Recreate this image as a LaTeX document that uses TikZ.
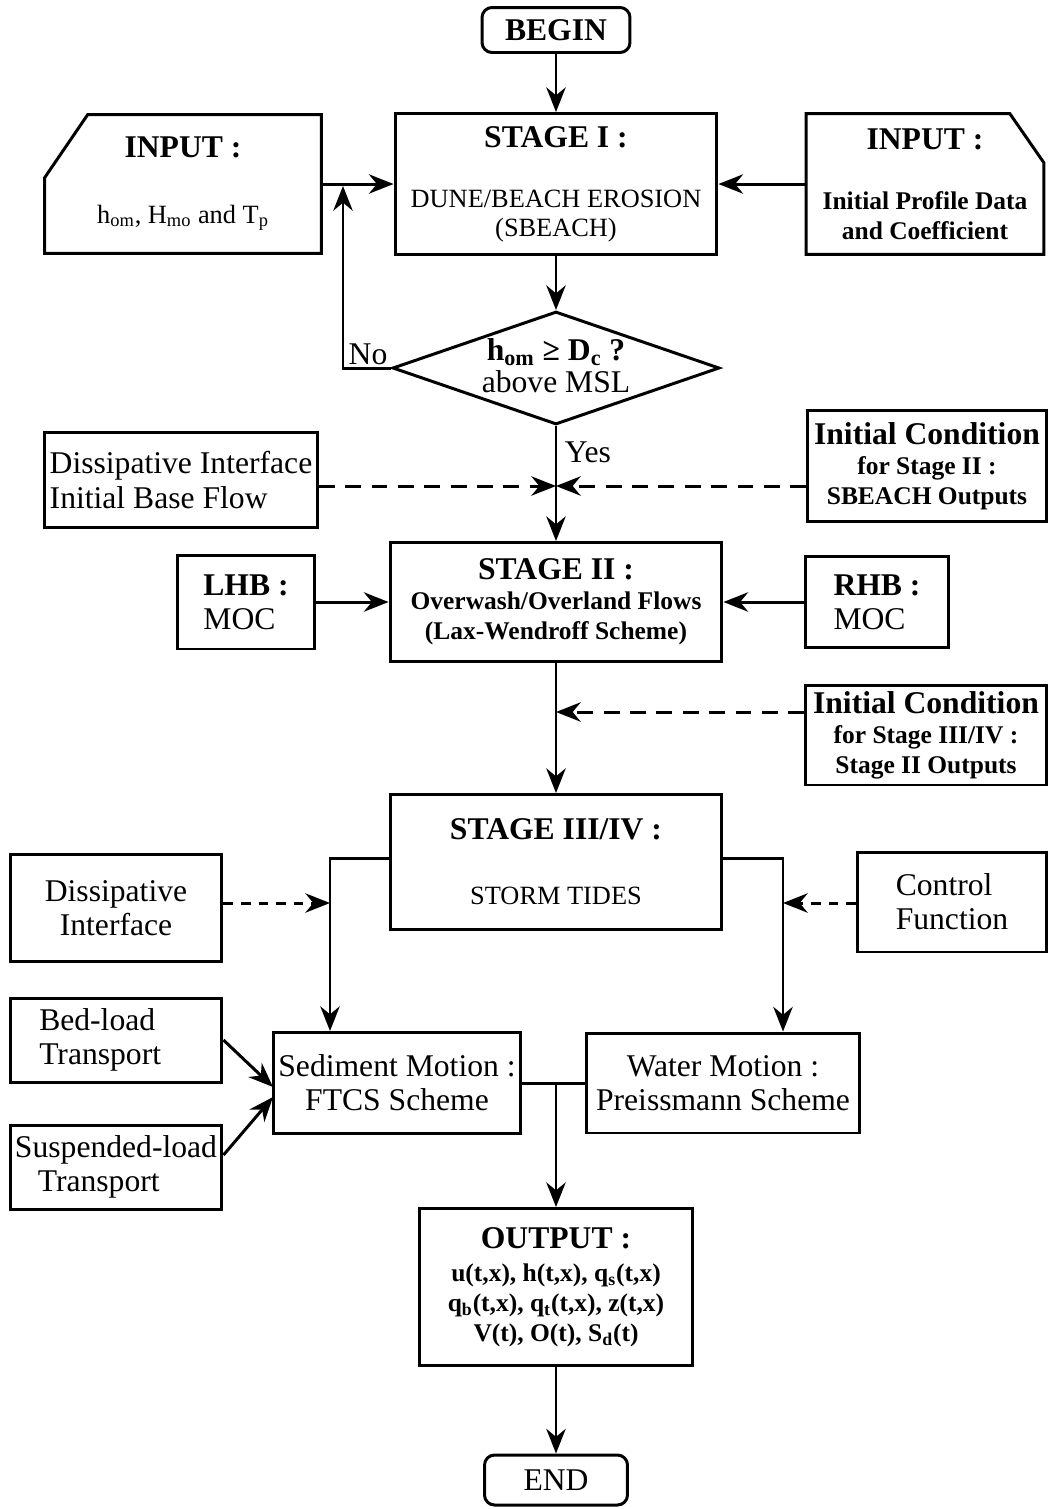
\documentclass[tikz,border=0pt]{standalone}
\usepackage{fontspec}
\setmainfont{Liberation Serif}
\usetikzlibrary{arrows.meta,shapes.geometric}
\newcommand{\fhead}{\fontsize{18}{20}\selectfont\bfseries}
\newcommand{\fbody}{\fontsize{18}{19.5}\selectfont}
\newcommand{\fsmall}{\fontsize{15}{16.5}\selectfont}
\newcommand{\fsmallb}{\fontsize{14.5}{17}\selectfont\bfseries}

\begin{document}
\begin{tikzpicture}[x=0.02cm,y=-0.02cm,
  box/.style={draw,line width=1.7pt,inner sep=2pt,align=center},
  arr/.style={line width=1.7pt,-{Stealth[length=14pt,width=11pt,inset=4.5pt]}},
  dasharr/.style={arr,dash pattern=on 9pt off 6pt},
  dotarr/.style={arr,dash pattern=on 5.5pt off 4.5pt}]
  \useasboundingbox (0,0) rectangle (1049,1509);

  %main column
  \node[box,rounded corners=0.2cm,minimum width=2.96cm,minimum height=0.9cm,font=\fhead] (begin) at (556,30) {BEGIN};
  \node[box,minimum width=6.44cm,minimum height=2.82cm,font=\fsmall] (stageone) at (556,184)
    {{\fhead STAGE I :}\\[17.5pt] DUNE/BEACH EROSION\\ (SBEACH)};
  \node[diamond,draw,line width=1.7pt,inner sep=0pt,aspect=2.9,minimum width=6.54cm,minimum height=2.26cm] (test) at (556,368) {};
  \node[align=center,font=\fontsize{18}{18.2}\selectfont] (testtext) at (556,366)
    {{\bfseries h\textsubscript{om} ≥ D\textsubscript{c} ?}\\ above MSL};
  \node[box,minimum width=6.64cm,minimum height=2.38cm,font=\fsmallb] (stagetwo) at (556,602)
    {{\fhead STAGE II :}\\ Overwash/Overland Flows\\ (Lax-Wendroff Scheme)};
  \node[box,minimum width=6.64cm,minimum height=2.7cm,font=\fsmall] (stagethree) at (556,862)
    {{\fhead STAGE III/IV :}\\[20.5pt] STORM TIDES};
  \node[box,minimum width=4.96cm,minimum height=2.02cm,font=\fbody] (sediment) at (397,1083)
    {Sediment Motion :\\ FTCS Scheme};
  \node[box,minimum width=5.48cm,minimum height=2.0cm,font=\fbody] (water) at (723,1083)
    {Water Motion :\\ Preissmann Scheme};
  \node[box,minimum width=5.48cm,minimum height=3.14cm,font=\fsmallb] (output) at (556,1287)
    {{\fhead OUTPUT :}\\[2pt] u(t,x), h(t,x), q\textsubscript{s}(t,x)\\ q\textsubscript{b}(t,x), q\textsubscript{t}(t,x), z(t,x)\\ V(t), O(t), S\textsubscript{d}(t)};
  \node[box,rounded corners=0.2cm,minimum width=2.86cm,minimum height=1.0cm,font=\fbody] (end) at (556,1480) {END};

  %input boxes with a cut corner
  \node[inner sep=2pt,align=center,minimum width=5.52cm,minimum height=2.76cm,font=\fsmall] (inleft) at (183,184)
    {{\fhead INPUT :}\\[20.5pt] h\textsubscript{om}, H\textsubscript{mo} and T\textsubscript{p}};
  \draw[line width=1.7pt] ([xshift=0.86cm]inleft.north west) -- (inleft.north east) -- (inleft.south east)
    -- (inleft.south west) -- ([yshift=-1.26cm]inleft.north west) -- cycle;
  \node[inner sep=2pt,align=center,minimum width=4.74cm,minimum height=2.8cm,font=\fsmallb] (inright) at (925,184)
    {{\fhead INPUT :}\\[17pt] Initial Profile Data\\ and Coefficient};
  \draw[line width=1.7pt] ([xshift=-0.68cm]inright.north east) -- (inright.north west) -- (inright.south west)
    -- (inright.south east) -- ([yshift=-0.98cm]inright.north east) -- cycle;

  %side boxes
  \node[box,align=left,minimum width=5.46cm,minimum height=1.9cm,font=\fbody] (dissone) at (181,480)
    {Dissipative Interface\\ Initial Base Flow};
  \node[box,minimum width=4.78cm,minimum height=2.22cm,font=\fsmallb] (icone) at (927,466)
    {{\fhead Initial Condition}\\ for Stage II :\\ SBEACH Outputs};
  \node[box,align=left,minimum width=2.76cm,minimum height=1.88cm,font=\fbody] (lhb) at (246,602)
    {{\bfseries LHB :}\\ MOC};
  \node[box,align=left,minimum width=2.86cm,minimum height=1.82cm,font=\fbody] (rhb) at (877,602)
    {{\bfseries RHB :}\\ MOC};
  \node[box,minimum width=4.82cm,minimum height=2.0cm,font=\fsmallb] (ictwo) at (926,735)
    {{\fhead Initial Condition}\\ for Stage III/IV :\\ Stage II Outputs};
  \node[box,minimum width=4.24cm,minimum height=2.14cm,font=\fbody] (disstwo) at (116,908)
    {Dissipative\\ Interface};
  \node[box,align=left,minimum width=3.78cm,minimum height=2.0cm,font=\fbody] (control) at (952,902)
    {Control\\ Function};
  \node[box,align=left,minimum width=4.24cm,minimum height=1.68cm,font=\fbody] (bedload) at (116,1040)
    {Bed-load\\ Transport\hspace*{18pt}};
  \node[box,align=left,minimum width=4.24cm,minimum height=1.68cm,font=\fbody] (suspended) at (116,1167)
    {Suspended-load\\ \hspace*{13pt}Transport};

  %junction points
  \coordinate (nojoin) at (343,186);
  \coordinate (ja) at (556,486);
  \coordinate (jb) at (556,712);
  \coordinate (sl) at (330,858);
  \coordinate (sr) at (783,858);
  \coordinate (dl) at (330,903);
  \coordinate (dr) at (783,903);
  \coordinate (bt) at (273,1087);
  \coordinate (st) at (273,1097);
  \coordinate (jc) at (556,1083);

  %flow
  \draw[arr] (begin) -- (stageone);
  \draw[arr] (inleft.east) -- (stageone.west);
  \draw[arr] (inright.west) -- (stageone.east);
  \draw[arr] (stageone) -- (test);
  \draw[arr] (test.west) -| (nojoin);
  \node[font=\fbody] (no) at (368,354) {No};
  \draw[arr] (test) -- (stagetwo);
  \node[font=\fbody] (yes) at (588,452) {Yes};
  \draw[dasharr] (dissone.east |- ja) -- (ja);
  \draw[dasharr] (icone.west |- ja) -- (ja);
  \draw[arr] (lhb) -- (stagetwo);
  \draw[arr] (rhb) -- (stagetwo);
  \draw[arr] (stagetwo) -- (stagethree);
  \draw[dasharr] (ictwo.west |- jb) -- (jb);
  \draw[arr] (stagethree.west |- sl) -- (sl) -- (sl |- sediment.north);
  \draw[arr] (stagethree.east |- sr) -- (sr) -- (sr |- water.north);
  \draw[dotarr] (disstwo.east |- dl) -- (dl);
  \draw[dotarr] (control.west |- dr) -- (dr);
  \draw[arr] (bedload.east) -- (bt);
  \draw[arr] ([yshift=0.24cm]suspended.east) -- (st);
  \draw[line width=1.7pt] (sediment.east) -- (water.west);
  \draw[arr] (jc) -- (output);
  \draw[arr] (output) -- (end);
\end{tikzpicture}
\end{document}
